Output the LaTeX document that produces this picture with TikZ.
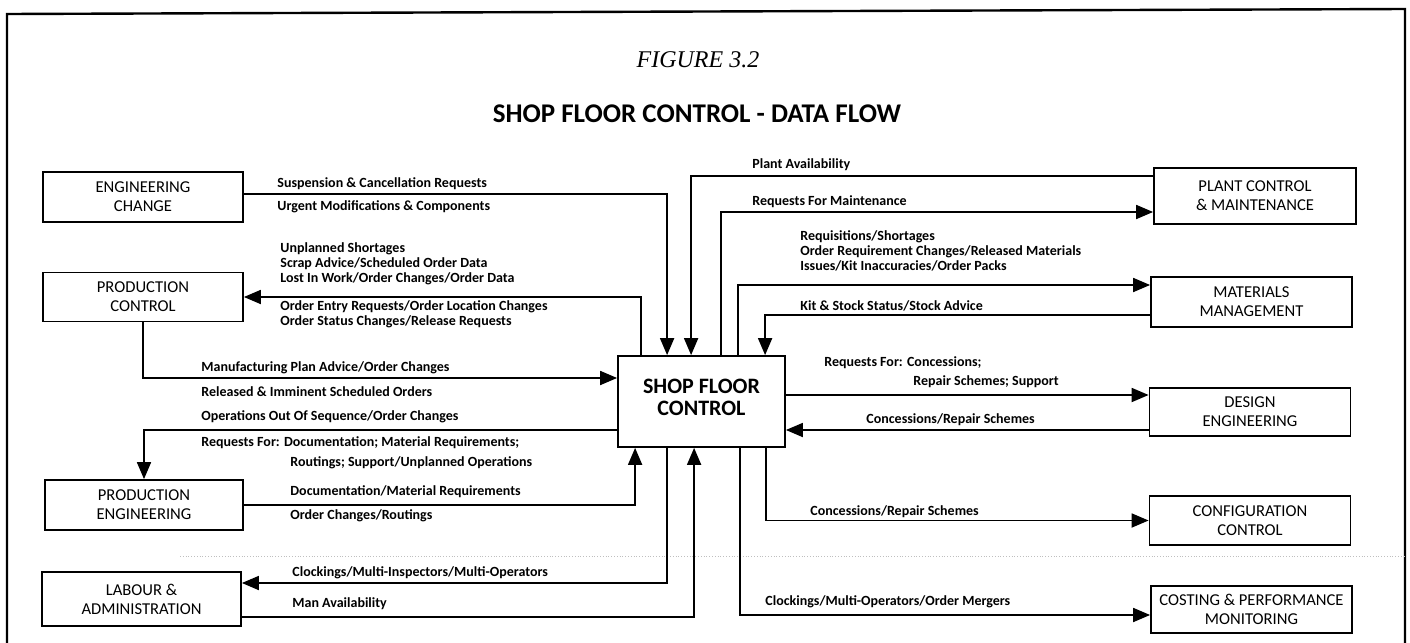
\documentclass[tikz,border=0pt]{standalone}
\usepackage{fontspec}
\setmainfont{Carlito}
\newfontfamily\figfont{Liberation Serif}
\usetikzlibrary{arrows.meta,calc}

\begin{document}
\begin{tikzpicture}[
    x=0.5pt, y=-0.5pt,
    box/.style={rectangle, draw, line width=0.9pt, align=center, inner sep=1pt,
                font=\fontsize{8.3}{9.5}\selectfont},
    lbl/.style={anchor=west, inner sep=0pt, align=left,
                font=\bfseries\fontsize{7}{7.5}\selectfont},
    arrow/.style={-{Triangle[length=8.5pt,width=7pt]}, line width=0.9pt},
    frame/.style={line width=1.2pt}
]
\useasboundingbox (0,0) rectangle (1410,643);

% Frame and heading
\draw[frame] (7,643) -- (7,14) -- (1405,9) -- (1405,643);
\draw[gray!50, densely dotted] (180,556) -- (1405,556);
\node[font=\figfont\itshape\fontsize{12}{14}\selectfont] (fig) at (698,60) {FIGURE 3.2};
\node[font=\bfseries\fontsize{13.5}{16}\selectfont] (title) at (697,114) {SHOP FLOOR CONTROL - DATA FLOW};

% Centre box
\node[box, minimum width=83.5pt, minimum height=45.5pt, text depth=4.5pt,
      font=\bfseries\fontsize{11}{11}\selectfont] (sfc) at (701.5,401.5) {SHOP FLOOR\\CONTROL};

% Left column
\node[box, minimum width=100pt, minimum height=25pt] (eng) at (143,197) {ENGINEERING\\CHANGE};
\node[box, minimum width=100pt, minimum height=24.5pt] (pc) at (143,297) {PRODUCTION\\CONTROL};
\node[box, minimum width=99pt, minimum height=25pt] (pe) at (144,505) {PRODUCTION\\ENGINEERING};
\node[box, minimum width=99.5pt, minimum height=27pt] (la) at (141.5,599) {LABOUR \&\\ADMINISTRATION};

% Right column
\node[box, minimum width=101pt, minimum height=28pt] (pcm) at (1255,196) {PLANT CONTROL\\\& MAINTENANCE};
\node[box, minimum width=100.5pt, minimum height=25pt] (mm) at (1251.5,302) {MATERIALS\\MANAGEMENT};
\node[box, minimum width=100.5pt, minimum height=24pt] (de) at (1250,412) {DESIGN\\ENGINEERING};
\node[box, minimum width=100.5pt, minimum height=24.5pt] (cc) at (1250,520.5) {CONFIGURATION\\CONTROL};
\node[box, minimum width=100.5pt, minimum height=23.5pt] (cpm) at (1251.5,609.5) {COSTING \& PERFORMANCE\\MONITORING};

% Flows on the left
\draw[arrow] ($(eng.east)+(0,-3)$) -| ($(sfc.north west)+(50,0)$);
\draw[arrow] ($(sfc.north west)+(24,0)$) |- (pc.east);
\draw[arrow] (pc.south) |- ($(sfc.west)+(0,-23.5)$);
\draw[arrow] ($(sfc.west)+(0,28.5)$) -| (pe.north);
\draw[arrow] (pe.east) -| ($(sfc.south west)+(18,0)$);
\draw[arrow] ($(sfc.south west)+(50,0)$) |- ($(la.east)+(0,-16)$);
\draw[arrow] ($(la.east)+(0,18)$) -| ($(sfc.south west)+(77,0)$);

% Flows on the right
\draw[arrow] ($(pcm.west)+(0,-20)$) -| ($(sfc.north west)+(74,0)$);
\draw[arrow] ($(sfc.north west)+(104,0)$) |- ($(pcm.west)+(0,16)$);
\draw[arrow] ($(sfc.north west)+(121,0)$) |- ($(mm.west)+(0,-17)$);
\draw[arrow] ($(mm.west)+(0,13)$) -| ($(sfc.north west)+(148,0)$);
\draw[arrow] ($(sfc.east)+(0,-6.5)$) -- ($(de.west)+(0,-17)$);
\draw[arrow] ($(de.west)+(0,18)$) -- ($(sfc.east)+(0,28.5)$);
\draw[arrow] ($(sfc.south west)+(149,0)$) |- (cc.west);
\draw[arrow] ($(sfc.south west)+(123,0)$) |- ($(cpm.west)+(0,5.5)$);

% Labels on the left
\node[lbl] (susp) at (277,184) {Suspension \& Cancellation Requests};
\node[lbl] (urgent) at (277,207) {Urgent Modifications \& Components};
\node[lbl] (short) at (280,263.5) {Unplanned Shortages\\Scrap Advice/Scheduled Order Data\\Lost In Work/Order Changes/Order Data};
\node[lbl] (entry) at (280,314.5) {Order Entry Requests/Order Location Changes\\Order Status Changes/Release Requests};
\node[lbl] (mfg) at (201,368) {Manufacturing Plan Advice/Order Changes};
\node[lbl] (released) at (201,392) {Released \& Imminent Scheduled Orders};
\node[lbl] (oos) at (201,417) {Operations Out Of Sequence/Order Changes};
\node[lbl] (reqdoc) at (201,443) {Requests For: Documentation; Material Requirements;};
\node[lbl] (routing) at (290,463) {Routings; Support/Unplanned Operations};
\node[lbl] (docmat) at (290,492) {Documentation/Material Requirements};
\node[lbl] (ordrout) at (290,516) {Order Changes/Routings};
\node[lbl] (clockla) at (292,573) {Clockings/Multi-Inspectors/Multi-Operators};
\node[lbl] (manav) at (292,604) {Man Availability};

% Labels on the right
\node[lbl] (plantav) at (752,165) {Plant Availability};
\node[lbl] (reqmaint) at (752,202) {Requests For Maintenance};
\node[lbl] (requis) at (800,251) {Requisitions/Shortages\\Order Requirement Changes/Released Materials\\Issues/Kit Inaccuracies/Order Packs};
\node[lbl] (kit) at (800,306) {Kit \& Stock Status/Stock Advice};
\node[lbl] (reqcon) at (824,363) {Requests For: Concessions;};
\node[lbl] (repair) at (913,382) {Repair Schemes; Support};
\node[lbl] (concde) at (866,420) {Concessions/Repair Schemes};
\node[lbl] (conccc) at (810,512) {Concessions/Repair Schemes};
\node[lbl] (clockcpm) at (765,602) {Clockings/Multi-Operators/Order Mergers};

\end{tikzpicture}
\end{document}
